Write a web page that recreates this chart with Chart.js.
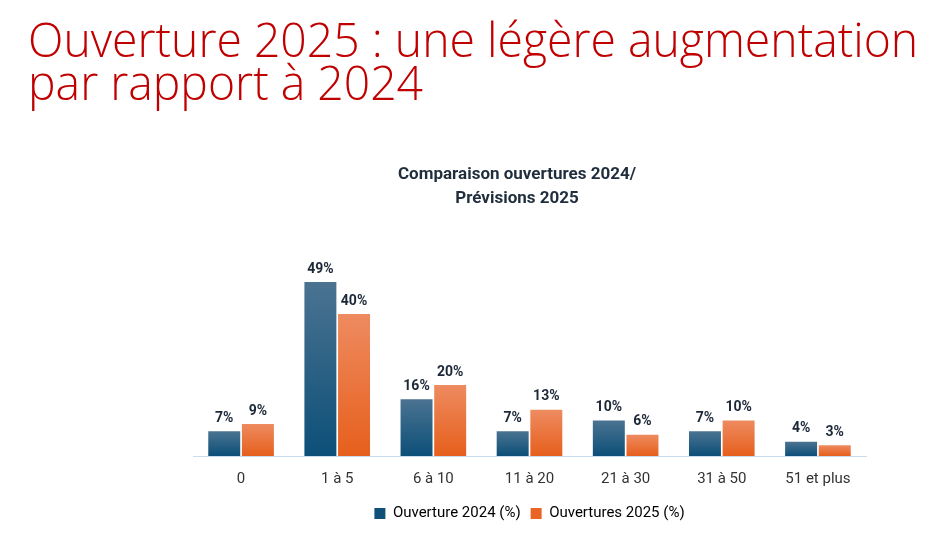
<!DOCTYPE html>
<html>
<head>
<meta charset="utf-8">
<script src="https://cdn.jsdelivr.net/npm/chart.js@4.4.1/dist/chart.umd.min.js"></script>
<style>
    html, body { margin: 0; padding: 0; background: #ffffff; }
    #wrap { position: relative; width: 929px; height: 541px; overflow: hidden; }
    #heading { position: absolute; left: 28px; top: 17px; margin: 0; color: #c00000;
        font-family: 'Open Sans', 'DejaVu Sans', sans-serif; font-weight: 300; font-size: 48px;
        line-height: 43px; white-space: nowrap; transform-origin: 0 0; }
    #chartTitle { position: absolute; left: 317px; width: 400px; top: 161px; text-align: center;
        color: #1f2d3d; font-family: Roboto, sans-serif; font-weight: bold; font-size: 17px; line-height: 24px; }
    #chart { position: absolute; left: 0; top: 0; }
</style>
</head>
<body>
<div id="wrap">
    <canvas id="chart" width="929" height="541"></canvas>
    <div id="heading">Ouverture 2025 : une légère augmentation<br>par rapport à 2024</div>
    <div id="chartTitle"></div>
</div>
<script>
// data
const categories = ['0', '1 à 5', '6 à 10', '11 à 20', '21 à 30', '31 à 50', '51 et plus'];
const ouverture2024 = [7, 49, 16, 7, 10, 7, 4];
const ouvertures2025 = [9, 40, 20, 13, 6, 10, 3];
const seriesLabels = ['Ouverture 2024 (%)', 'Ouvertures 2025 (%)'];
const chartTitle = ['Comparaison ouvertures 2024/', 'Prévisions 2025'];

document.getElementById('chartTitle').innerHTML = chartTitle.join('<br>');

// stretch the heading so the first line spans the same width as the slide
const heading = document.getElementById('heading');
const headWidth = heading.scrollWidth;
heading.style.transform = 'scaleX(' + (890 / headWidth) + ')';

const barGradient = (top, bottom) => (context) => {
    const chart = context.chart;
    if (!chart.chartArea || !chart.scales.y) return bottom;
    const value = context.raw || 0;
    const yTop = chart.scales.y.getPixelForValue(value);
    const yBase = chart.scales.y.getPixelForValue(0);
    const g = chart.ctx.createLinearGradient(0, yTop, 0, yBase);
    g.addColorStop(0, top);
    g.addColorStop(1, bottom);
    return g;
};

// percent labels above the bars
const valueLabels = {
    id: 'valueLabels',
    afterDatasetsDraw(chart) {
        const ctx = chart.ctx;
        ctx.save();
        ctx.font = 'bold 14px Roboto, sans-serif';
        ctx.fillStyle = '#1c2838';
        ctx.textAlign = 'center';
        ctx.textBaseline = 'bottom';
        chart.data.datasets.forEach((ds, i) => {
            chart.getDatasetMeta(i).data.forEach((bar, j) => {
                ctx.fillText(ds.data[j] + '%', bar.x, bar.y - 6);
            });
        });
        ctx.restore();
    }
};

new Chart(document.getElementById('chart').getContext('2d'), {
    type: 'bar',
    data: {
        labels: categories,
        datasets: [{
            label: seriesLabels[0],
            data: ouverture2024,
            backgroundColor: barGradient('#4b7391', '#0c4f78'),
            borderWidth: 0,
            barPercentage: 0.95,
            categoryPercentage: 0.7
        }, {
            label: seriesLabels[1],
            data: ouvertures2025,
            backgroundColor: barGradient('#ee8b60', '#e65f1c'),
            borderWidth: 0,
            barPercentage: 0.95,
            categoryPercentage: 0.7
        }]
    },
    options: {
        animation: false,
        responsive: false,
        layout: {
            padding: { left: 193, right: 63, top: 243, bottom: 10 }
        },
        plugins: {
            legend: {
                position: 'bottom',
                labels: {
                    color: '#333333',
                    font: { family: 'Roboto, sans-serif', size: 15 },
                    boxWidth: 11,
                    boxHeight: 11,
                    padding: 10,
                    generateLabels: (chart) => chart.data.datasets.map((ds, i) => ({
                        text: ds.label,
                        fillStyle: i === 0 ? '#0f5079' : '#ea6425',
                        strokeStyle: 'transparent',
                        lineWidth: 0,
                        datasetIndex: i
                    }))
                }
            },
            tooltip: { enabled: false }
        },
        scales: {
            x: {
                grid: { display: false, drawTicks: false },
                border: { color: '#c9dcee', width: 1 },
                ticks: {
                    color: '#333333',
                    font: { family: 'Roboto, sans-serif', size: 15 },
                    padding: 14
                },
                afterFit: (scale) => { scale.height -= 6; }
            },
            y: {
                display: false,
                min: 0,
                max: 60
            }
        }
    },
    plugins: [valueLabels]
});
</script>
</body>
</html>
